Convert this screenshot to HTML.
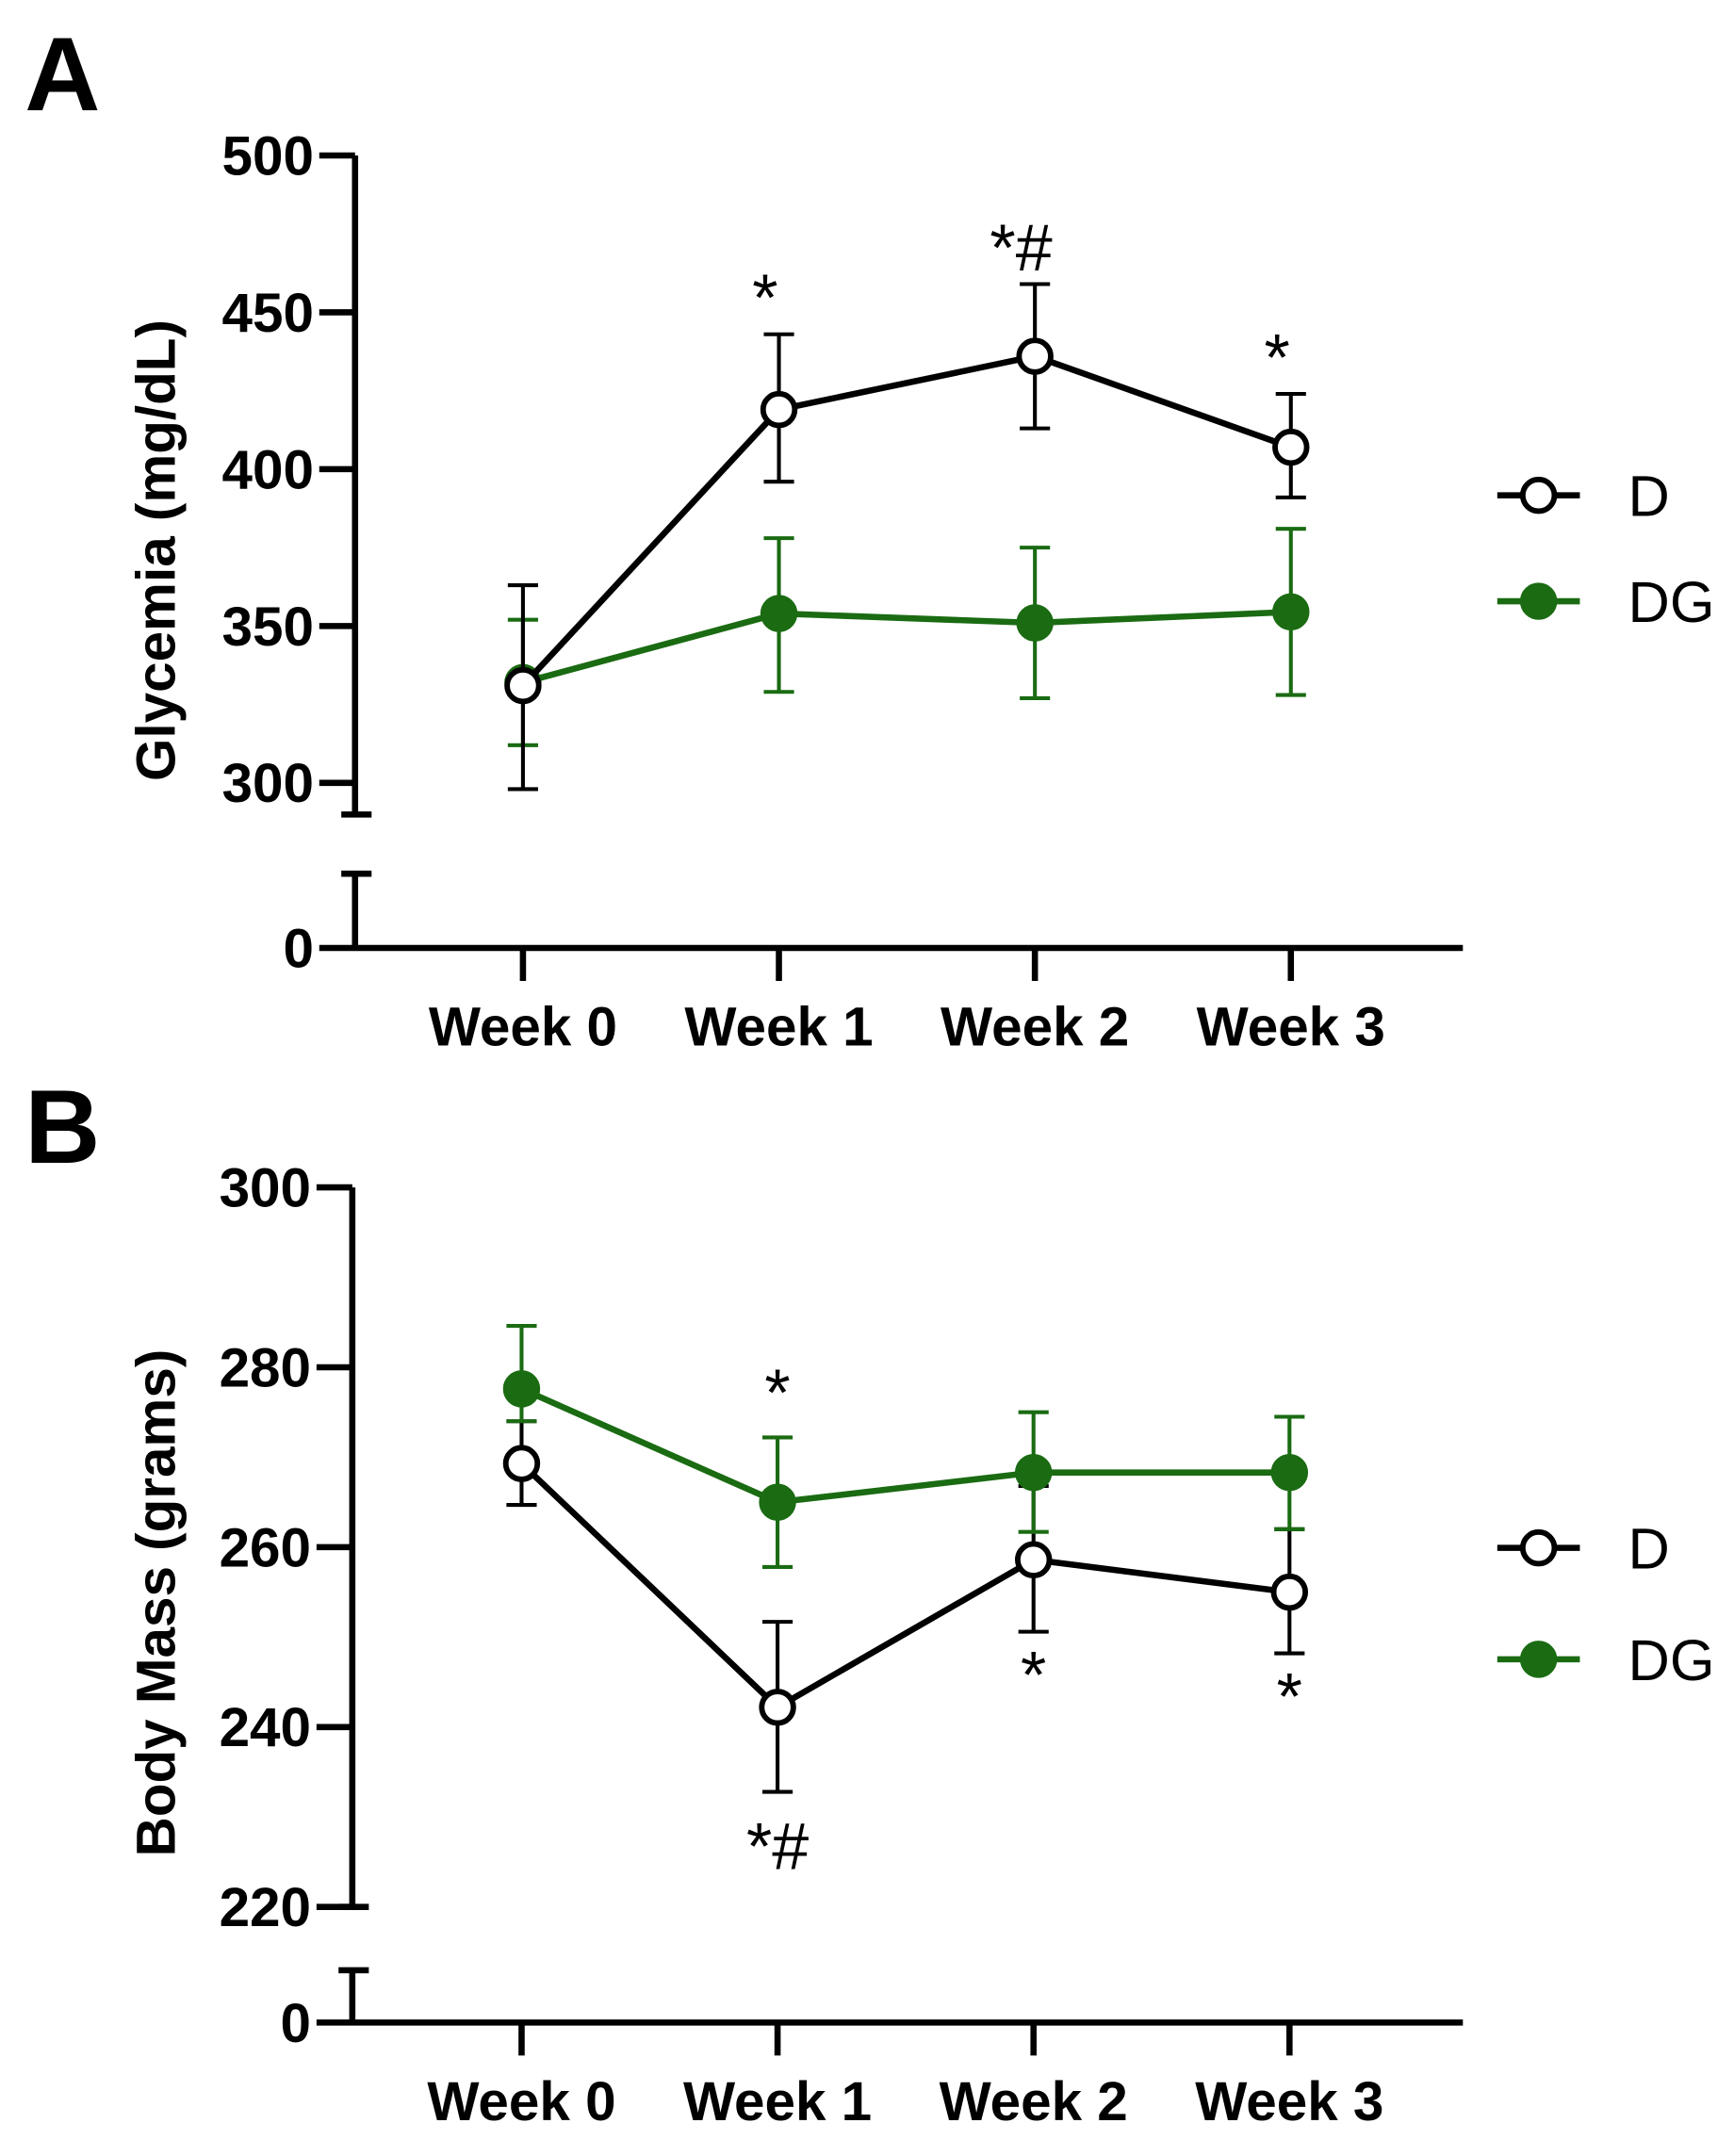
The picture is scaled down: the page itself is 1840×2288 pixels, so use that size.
<!DOCTYPE html>
<html><head><meta charset="utf-8"><style>
html,body{margin:0;padding:0;background:#fff;}
svg{display:block;}
text{font-family:"Liberation Sans",Arial,sans-serif;}
</style></head><body>
<svg id="fig" width="1840" height="2288" viewBox="0 0 1260 1567" preserveAspectRatio="none" xmlns="http://www.w3.org/2000/svg">
<text x="18" y="80" font-size="76" font-weight="bold">A</text>
<text x="18" y="845" font-size="76" font-weight="bold">B</text>
<text transform="translate(127,400) rotate(-90)" text-anchor="middle" font-size="40" font-weight="bold">Glycemia (mg/dL)</text>
<text transform="translate(127,1165) rotate(-90)" text-anchor="middle" font-size="40" font-weight="bold">Body Mass (grams)</text>
<g id="pa"></g><g id="pb"></g>
</svg>
<script>
const categories = ["Week 0","Week 1","Week 2","Week 3"];
const glyD = [331,419,436,407];
const glyDHi = [363,443,459,424];
const glyDLo = [298,396,413,391];
const glyDG = [332,354,351,354.5];
const glyDGHi = [352,378,375,381];
const glyDGLo = [312,329,327,328];
const glyTicks = [300,350,400,450,500];
const glyStars = ["", "*", "*#", "*"];
const bmD = [269.3,242.2,258.6,255];
const bmDHi = [274,251.7,266.8,262];
const bmDLo = [264.7,232.8,250.6,248.2];
const bmDG = [277.6,265,268.3,268.3];
const bmDGHi = [284.6,272.2,275,274.5];
const bmDGLo = [274,257.8,261.7,262];
const bmTicks = [220,240,260,280,300];
const bmStarsAbove = ["", "*", "", ""];
const bmStarsBelow = ["", "*#", "*", "*"];

const NS="http://www.w3.org/2000/svg";
function mk(parent,tag,attrs,txt){const e=document.createElementNS(NS,tag);for(const k in attrs)e.setAttribute(k,attrs[k]);if(txt!==undefined)e.textContent=txt;parent.appendChild(e);return e;}
const GREEN="#1a6b12";

function panel(g,o){
  const y=v=>o.yTop+(o.max-v)*(o.yBot-o.yTop)/(o.max-o.min);
  const x=i=>o.x0+i*o.dx;
  let e=mk(g,'line',{x1:o.ax,y1:o.yTop,x2:o.ax,y2:o.brk1,stroke:'#000','stroke-width':4.5});
   
  mk(g,'line',{x1:o.ax-10,y1:o.brk1,x2:o.ax+12,y2:o.brk1,stroke:'#000','stroke-width':4.5});
  mk(g,'line',{x1:o.ax-10,y1:o.brk2,x2:o.ax+12,y2:o.brk2,stroke:'#000','stroke-width':4.5});
  mk(g,'line',{x1:o.ax,y1:o.brk2,x2:o.ax,y2:o.zeroY,stroke:'#000','stroke-width':4.5});
  e=mk(g,'line',{x1:o.ax-26,y1:o.zeroY,x2:1063,y2:o.zeroY,stroke:'#000','stroke-width':4.5});
   
  e=mk(g,'text',{x:o.ax-30,y:o.zeroY+14,'text-anchor':'end','font-size':40,'font-weight':'bold'},'0');
   
  o.ticks.forEach(t=>{
    mk(g,'line',{x1:o.ax-26,y1:y(t),x2:o.ax,y2:y(t),stroke:'#000','stroke-width':4.5});
    const l=mk(g,'text',{x:o.ax-30,y:y(t)+14,'text-anchor':'end','font-size':40,'font-weight':'bold'},String(t));
     
  });
  categories.forEach((c,i)=>{
    mk(g,'line',{x1:x(i),y1:o.zeroY,x2:x(i),y2:o.zeroY+24,stroke:'#000','stroke-width':4.5});
    const l=mk(g,'text',{x:x(i),y:o.zeroY+71,'text-anchor':'middle','font-size':40,'font-weight':'bold'},c);
     
  });
  function series(vals,hi,lo,col,filled,name){
    hi.forEach((h,i)=>{
      const eb=mk(g,'path',{d:`M${x(i)},${y(h)}V${y(lo[i])}M${x(i)-11},${y(h)}h22M${x(i)-11},${y(lo[i])}h22`,stroke:col,'stroke-width':2.8,fill:'none'});
       
    });
    const ln=mk(g,'polyline',{points:vals.map((v,i)=>x(i)+','+y(v)).join(' '),stroke:col,'stroke-width':4.5,fill:'none'});
     
    vals.forEach((v,i)=>{
      const p=mk(g,'circle',{cx:x(i),cy:y(v),r:11.5,fill:filled?col:'#fff',stroke:col,'stroke-width':4});
       
    });
  }
  o.series.forEach(s=>series(...s));
  [[o.legY[0],'#000',false,'D'],[o.legY[1],GREEN,true,'DG']].forEach(([ly,col,f,lab])=>{
    const lg=mk(g,'g',{});
     
    mk(lg,'line',{x1:1088,y1:ly,x2:1148,y2:ly,stroke:col,'stroke-width':4.5});
    mk(lg,'circle',{cx:1118,cy:ly,r:11.5,fill:f?col:'#fff',stroke:col,'stroke-width':4});
    mk(lg,'text',{x:1183,y:ly+15,'font-size':42},lab);
  });
  return {x,y};
}

const A=panel(document.getElementById('pa'),{yTop:113,yBot:569,max:500,min:300,ax:258,brk1:592,brk2:635,zeroY:689,x0:380,dx:186,ticks:glyTicks,legY:[360,437],
  series:[[glyDG,glyDGHi,glyDGLo,GREEN,true,'dg'],[glyD,glyDHi,glyDLo,'#000',false,'d']]});
const ga=document.getElementById('pa');
glyStars.forEach((s,i)=>{ if(!s) return;
  const t=mk(ga,'text',{x:A.x(i)-10,y:A.y(glyDHi[i])-10,'text-anchor':'middle','font-size':48},s);
   
});
const B=panel(document.getElementById('pb'),{yTop:863,yBot:1386,max:300,min:220,ax:256,brk1:1386,brk2:1432,zeroY:1470,x0:379,dx:186,ticks:bmTicks,legY:[1125,1206],
  series:[[bmD,bmDHi,bmDLo,'#000',false,'d'],[bmDG,bmDGHi,bmDGLo,GREEN,true,'dg']]});
const gb=document.getElementById('pb');
bmStarsAbove.forEach((s,i)=>{ if(!s) return;
  const t=mk(gb,'text',{x:B.x(i),y:B.y(bmDGHi[i])-16,'text-anchor':'middle','font-size':48},s);
   
});
bmStarsBelow.forEach((s,i)=>{ if(!s) return;
  const t=mk(gb,'text',{x:B.x(i),y:B.y(bmDLo[i])+(s.length>1?56:48),'text-anchor':'middle','font-size':48},s);
   
});
</script>
</body></html>
